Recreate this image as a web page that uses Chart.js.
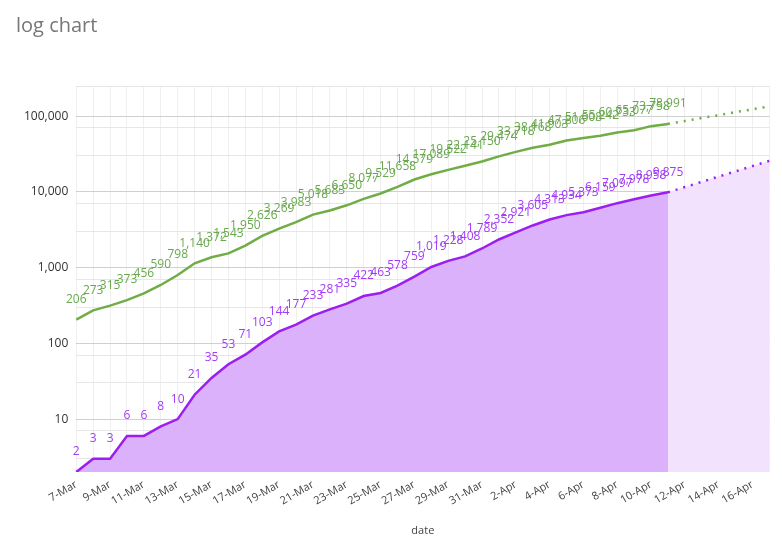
<!DOCTYPE html>
<html><head><meta charset="utf-8">
<script src="https://cdn.jsdelivr.net/npm/chart.js@4"></script>
<style>html,body{margin:0;background:#fff}#w{width:782px;height:557px;position:relative}</style>
</head><body><div id="w"><canvas id="c"></canvas></div>
<script>
const dates = ["7-Mar","8-Mar","9-Mar","10-Mar","11-Mar","12-Mar","13-Mar","14-Mar","15-Mar","16-Mar","17-Mar","18-Mar","19-Mar","20-Mar","21-Mar","22-Mar","23-Mar","24-Mar","25-Mar","26-Mar","27-Mar","28-Mar","29-Mar","30-Mar","31-Mar","1-Apr","2-Apr","3-Apr","4-Apr","5-Apr","6-Apr","7-Apr","8-Apr","9-Apr","10-Apr","11-Apr","12-Apr","13-Apr","14-Apr","15-Apr","16-Apr","17-Apr"];
const cases = [206,273,315,373,456,590,798,1140,1372,1543,1950,2626,3269,3983,5018,5683,6650,8077,9529,11658,14579,17089,19522,22141,25150,29474,33718,38168,41903,47806,51608,55242,60733,65077,73758,78991];
const deaths = [2,3,3,6,6,8,10,21,35,53,71,103,144,177,233,281,335,422,463,578,759,1019,1228,1408,1789,2352,2921,3605,4313,4934,5373,6159,7097,7978,8958,9875];
const casesProj = [78991,86300,94400,103000,113000,123000,135000];
const deathsProj = [9875,11580,13590,15940,18700,21930,25700];
const projStart = 35;
const highlight = [34,35];

const pad = (arr, start) => dates.map((d,i)=> (i>=start && i-start<arr.length) ? arr[i-start] : null);
const green = '#70ad47', purple = '#9b1ff0';

const labelPlugin = {
  id:'lbl',
  afterDatasetsDraw(chart){
    const ctx = chart.ctx;
    ctx.save();
    ctx.font = '12px "Open Sans", sans-serif';
    ctx.textAlign='center'; ctx.textBaseline='bottom';
    [[0,'#6aa84f'],[1,'#a23cf5']].forEach(([di,col])=>{
      const meta = chart.getDatasetMeta(di);
      ctx.fillStyle = col;
      meta.data.forEach((p,i)=>{
        const v = chart.data.datasets[di].data[i];
        if(v==null) return;
        ctx.fillText(v.toLocaleString('en-US'), p.x, p.y - 14);
      });
    });
    ctx.restore();
  }
};

new Chart(document.getElementById('c'), {
  type:'line',
  data:{labels:dates, datasets:[
    {data:cases, borderColor:green, borderWidth:2.5, pointRadius:0, fill:false, tension:0},
    {data:deaths, borderColor:purple, borderWidth:2.5, pointRadius:0, fill:'origin', backgroundColor:'#dcb1fb', tension:0},
    {data:pad(casesProj,projStart), borderColor:green, borderWidth:2.5, borderDash:[2,6], pointRadius:0, fill:false},
    {data:pad(deathsProj,projStart), borderColor:purple, borderWidth:2.5, borderDash:[2,6], pointRadius:0, fill:'origin', backgroundColor:'#f3e2fd'},
    {data:dates.map((d,i)=>highlight.includes(i)?deaths[i]:null), borderWidth:0, pointRadius:0, fill:'origin', backgroundColor:'rgba(160,50,235,0.35)'}
  ]},
  options:{
    responsive:true, maintainAspectRatio:false, animation:false,
    layout:{padding:{left:16,right:12,top:0,bottom:16}},
    plugins:{legend:{display:false}, tooltip:{enabled:false},
      title:{display:true, text:'log chart', align:'start', color:'#777', font:{size:20,family:'"Open Sans", sans-serif', weight:'normal'}, padding:{top:14,bottom:48}}},
    scales:{
      x:{grid:{color:'#efefef', drawTicks:false}, border:{display:false},
        ticks:{autoSkip:false, maxRotation:30, minRotation:30, color:'#444', font:{size:11,family:'"Open Sans", sans-serif'}, padding:6,
          callback:(v,i)=> i%2===0 ? dates[i] : ''},
        title:{display:true, text:'date', color:'#444', font:{size:11,family:'"Open Sans", sans-serif'}, padding:{top:10}}},
      y:{type:'logarithmic', min:2, max:250000, border:{display:false},
        grid:{color:(c)=>{const v=c.tick&&c.tick.value; const l=Math.log10(v); return Math.abs(l-Math.round(l))<1e-6?'#d0d0d0':'#e6e6e6';}, drawTicks:false},
        ticks:{color:'#333', font:{size:12,family:'"Open Sans", sans-serif'}, padding:8,
          callback:(v)=>{const l=Math.log10(v); return (Math.abs(l-Math.round(l))<1e-6 && v>=10 && v<=100000)? Number(v).toLocaleString('en-US'):'';}}}
    }
  },
  plugins:[labelPlugin]
});
</script></body></html>
